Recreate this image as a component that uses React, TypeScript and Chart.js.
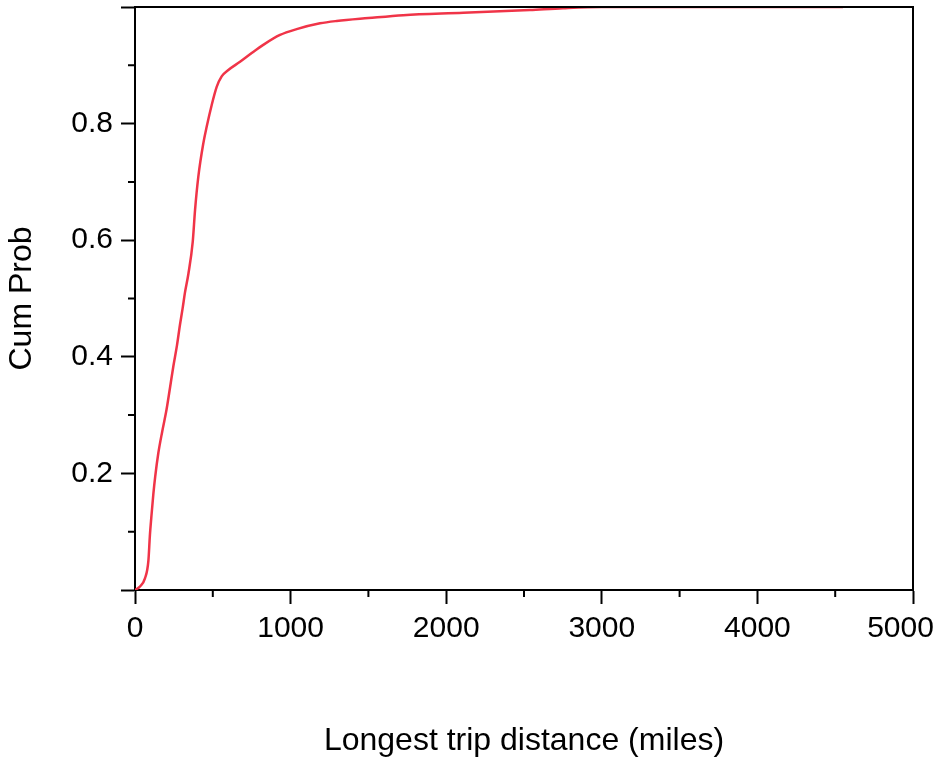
import React, { useEffect, useRef } from 'react';
import { Chart, registerables } from 'chart.js';

Chart.register(...registerables);

// Longest trip distance (miles)
const distances = [
  0, 32, 64, 86, 96, 105, 118, 130, 150, 175, 203, 225, 246, 270, 289, 306,
  321, 343, 371, 386, 407, 439, 461, 493, 525, 557, 600, 675, 750, 824, 932,
  1039, 1189, 1296, 1500, 1724, 2110, 2538, 2751, 3000, 4550,
];
// Cumulative probability
const cumProb = [
  0, 0.006, 0.02, 0.05, 0.095, 0.125, 0.165, 0.195, 0.235, 0.272, 0.31, 0.347,
  0.383, 0.42, 0.455, 0.483, 0.51, 0.542, 0.597, 0.652, 0.709, 0.766, 0.795,
  0.832, 0.863, 0.881, 0.892, 0.906, 0.921, 0.935, 0.952, 0.962, 0.972, 0.976,
  0.981, 0.986, 0.99, 0.995, 0.998, 1.0, 1.0,
];
const xTickLabels = ['0', '1000', '2000', '3000', '4000', '5000   '];
const yTickLabels = ['', '0.2', '0.4', '0.6', '0.8', ''];
const xMinorTicks = [500, 1500, 2500, 3500, 4500];
const yMinorTicks = [0.1, 0.3, 0.5, 0.7, 0.9];

const FONT = "'Liberation Sans', Arial, Helvetica, sans-serif";

const framePlugin = {
  id: 'frameAndMinor',
  afterDraw(chart: any) {
    const { ctx, chartArea: a, scales } = chart;
    ctx.save();
    ctx.strokeStyle = '#000';
    ctx.lineWidth = 2;
    ctx.beginPath();
    ctx.moveTo(a.left, a.top);
    ctx.lineTo(a.right, a.top);
    ctx.lineTo(a.right, a.bottom);
    ctx.stroke();
    ctx.beginPath();
    xMinorTicks.forEach((v) => {
      const px = scales.x.getPixelForValue(v);
      ctx.moveTo(px, a.bottom);
      ctx.lineTo(px, a.bottom + 7);
    });
    yMinorTicks.forEach((v) => {
      const py = scales.y.getPixelForValue(v);
      ctx.moveTo(a.left, py);
      ctx.lineTo(a.left - 7, py);
    });
    ctx.stroke();
    ctx.restore();
  },
};

export default function App() {
  const ref = useRef<HTMLCanvasElement | null>(null);

  useEffect(() => {
    document.body.style.margin = '0';
    const canvas = ref.current;
    if (!canvas) return;
    const points = distances.map((d, i) => ({ x: d, y: cumProb[i] }));
    const chart = new Chart(canvas, {
      type: 'scatter',
      data: {
        datasets: [
          {
            data: points,
            showLine: true,
            borderColor: 'rgb(240, 52, 72)',
            borderWidth: 2.5,
            pointRadius: 0,
            cubicInterpolationMode: 'monotone',
            fill: false,
          },
        ],
      },
      options: {
        responsive: false,
        animation: false,
        devicePixelRatio: 1,
        layout: { padding: { left: 0, right: 25, top: 7, bottom: 0 } },
        plugins: {
          legend: { display: false },
          tooltip: { enabled: false },
        },
        scales: {
          x: {
            type: 'linear',
            min: 0,
            max: 5000,
            afterFit: (s: any) => {
              s.height = 171;
              s.paddingLeft = 0;
              s.paddingRight = 0;
            },
            ticks: {
              stepSize: 1000,
              color: '#000',
              padding: 7,
              font: { family: FONT, size: 30 },
              callback: (_v: any, i: number) => xTickLabels[i],
            },
            grid: {
              drawOnChartArea: false,
              drawTicks: true,
              tickLength: 14,
              tickWidth: 2,
              tickColor: '#000',
              color: '#000',
            },
            border: { display: true, color: '#000', width: 2 },
            title: {
              display: true,
              text: 'Longest trip distance (miles)',
              color: '#000',
              font: { family: FONT, size: 32 },
              padding: { top: 0, bottom: 1 },
            },
          },
          y: {
            type: 'linear',
            min: 0,
            max: 1,
            afterFit: (s: any) => {
              s.width = 135;
              s.paddingTop = 0;
              s.paddingBottom = 0;
            },
            ticks: {
              stepSize: 0.2,
              color: '#000',
              padding: 8,
              font: { family: FONT, size: 30 },
              callback: (_v: any, i: number) => yTickLabels[i],
            },
            grid: {
              drawOnChartArea: false,
              drawTicks: true,
              tickLength: 14,
              tickWidth: 2,
              tickColor: '#000',
              color: '#000',
            },
            border: { display: true, color: '#000', width: 2 },
            title: {
              display: true,
              text: 'Cum Prob',
              color: '#000',
              font: { family: FONT, size: 32 },
              padding: { top: 3, bottom: 0 },
            },
          },
        },
      },
      plugins: [framePlugin],
    });
    return () => chart.destroy();
  }, []);

  return (
    <div style={{ width: 938, height: 761 }}>
      <canvas ref={ref} width={938} height={761} style={{ display: 'block' }} />
    </div>
  );
}
